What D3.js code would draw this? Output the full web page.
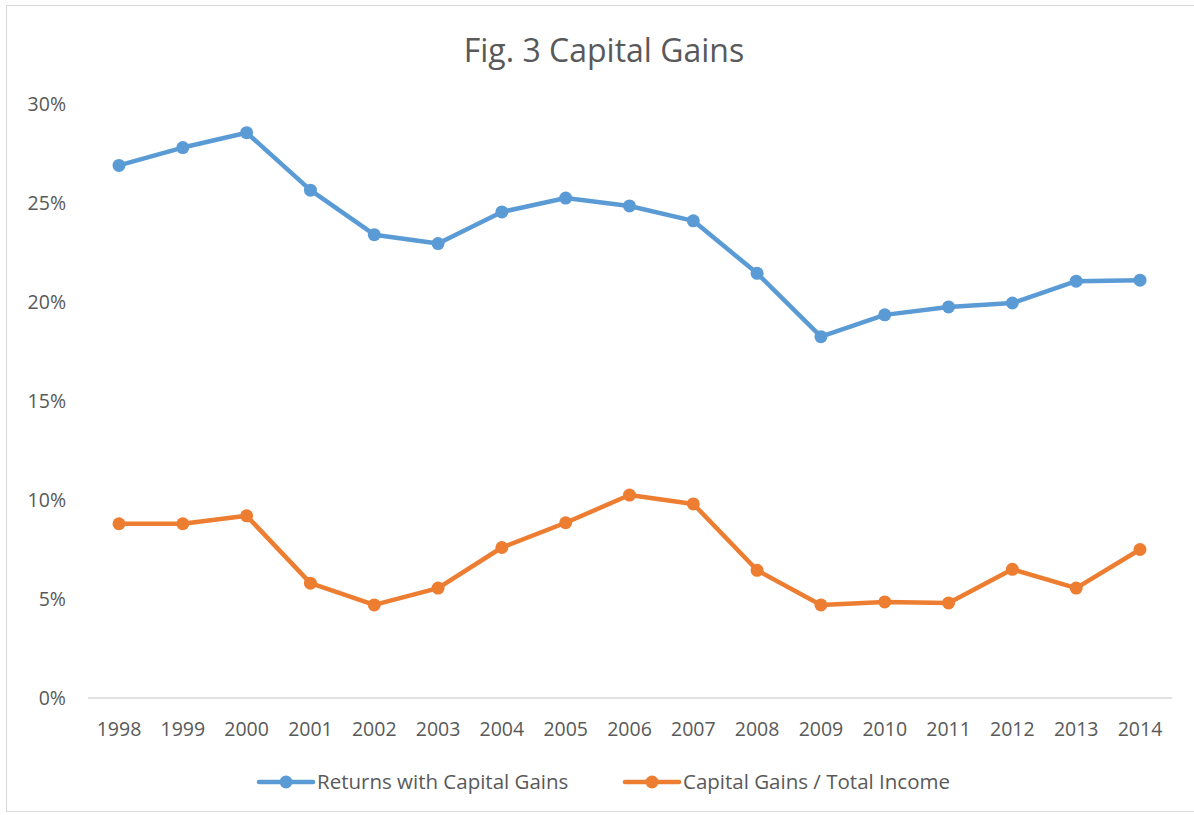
<!DOCTYPE html>
<html>
<head>
<meta charset="utf-8">
<script src="https://cdn.jsdelivr.net/npm/d3@7"></script>
<style>
  body { margin: 0; background: #fff; }
  svg { display: block; font-family: "Open Sans", "Noto Sans", sans-serif; }
</style>
</head>
<body>
<svg id="chart" width="1194" height="815"></svg>
<script>
const years = ["1998","1999","2000","2001","2002","2003","2004","2005","2006","2007","2008","2009","2010","2011","2012","2013","2014"];
const returnsWithGains = [26.9, 27.8, 28.55, 25.65, 23.4, 22.95, 24.55, 25.25, 24.85, 24.1, 21.45, 18.25, 19.35, 19.75, 19.95, 21.05, 21.1];
const gainsShare = [8.8, 8.8, 9.2, 5.8, 4.7, 5.55, 7.6, 8.85, 10.25, 9.8, 6.45, 4.7, 4.85, 4.8, 6.5, 5.55, 7.5];
const yTicks = [0, 5, 10, 15, 20, 25, 30];

const series = [
  { name: "Returns with Capital Gains", values: returnsWithGains, color: "#5b9bd5" },
  { name: "Capital Gains / Total Income", values: gainsShare, color: "#ed7d31" }
];

const svg = d3.select("#chart");

// outer chart border
svg.append("rect")
  .attr("x", 6.5).attr("y", 5.5)
  .attr("width", 1200).attr("height", 806)
  .attr("fill", "none")
  .attr("stroke", "#d9d9d9");

svg.append("text")
  .attr("x", 604).attr("y", 62)
  .attr("text-anchor", "middle")
  .attr("font-size", "32px")
  .attr("fill", "#595959")
  .text("Fig. 3 Capital Gains");

const x = d3.scalePoint()
  .domain(years)
  .range([119, 1140]);

const y = d3.scaleLinear()
  .domain([0, 30])
  .range([698, 104]);

// y labels
svg.selectAll(".ylab")
  .data(yTicks)
  .enter()
  .append("text")
  .attr("x", 66)
  .attr("y", d => y(d) + 7)
  .attr("text-anchor", "end")
  .attr("font-size", "19.5px")
  .attr("fill", "#595959")
  .text(d => d + "%");

// x axis line
svg.append("line")
  .attr("x1", 88).attr("x2", 1172)
  .attr("y1", y(0)).attr("y2", y(0))
  .attr("stroke", "#d9d9d9")
  .attr("stroke-width", 1.5);

svg.selectAll(".xlab")
  .data(years)
  .enter()
  .append("text")
  .attr("x", d => x(d))
  .attr("y", 736)
  .attr("text-anchor", "middle")
  .attr("font-size", "19.5px")
  .attr("fill", "#595959")
  .text(d => d);

const line = d3.line()
  .x((d, i) => x(years[i]))
  .y(d => y(d));

series.forEach(s => {
  svg.append("path")
    .datum(s.values)
    .attr("d", line)
    .attr("fill", "none")
    .attr("stroke", s.color)
    .attr("stroke-width", 4.5)
    .attr("stroke-linejoin", "round")
    .attr("stroke-linecap", "round");

  svg.selectAll(null)
    .data(s.values)
    .enter()
    .append("circle")
    .attr("cx", (d, i) => x(years[i]))
    .attr("cy", d => y(d))
    .attr("r", 6.5)
    .attr("fill", s.color);
});

// legend
const legendX = [259, 625];
series.forEach((s, i) => {
  const g = svg.append("g").attr("transform", `translate(${legendX[i]},782)`);
  g.append("line")
    .attr("x1", 0).attr("x2", 54)
    .attr("stroke", s.color)
    .attr("stroke-width", 4.5)
    .attr("stroke-linecap", "round");
  g.append("circle").attr("cx", 27).attr("r", 6.5).attr("fill", s.color);
  g.append("text")
    .attr("x", 58).attr("y", 7)
    .attr("font-size", "20.5px")
    .attr("fill", "#595959")
    .text(s.name);
});
</script>
</body>
</html>
